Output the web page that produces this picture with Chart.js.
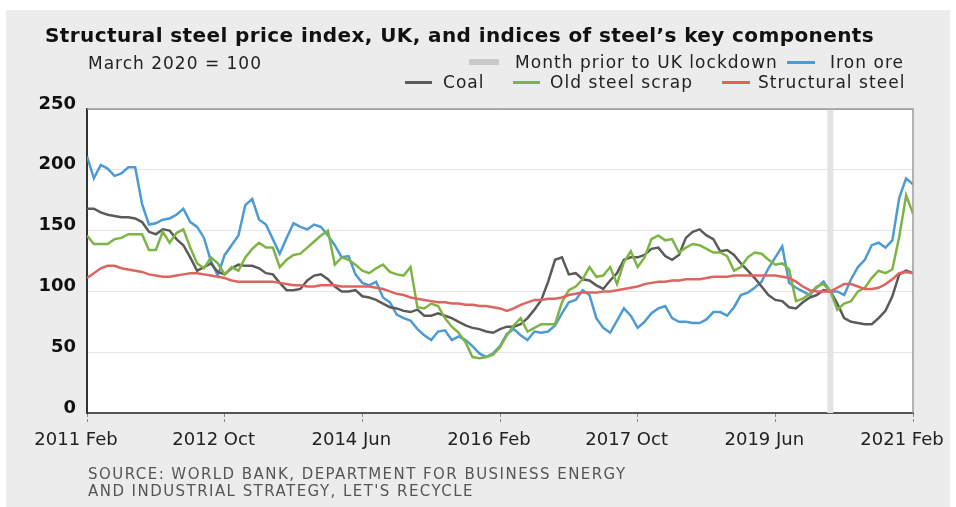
<!DOCTYPE html>
<html>
<head>
<meta charset="utf-8">
<script src="https://cdn.jsdelivr.net/npm/chart.js@4.4.1/dist/chart.umd.min.js"></script>
<style>
  html, body { margin: 0; padding: 0; background: #fff; }
  #wrap { position: relative; width: 956px; height: 507px; overflow: hidden; background: #fff; }
  #panel { position: absolute; left: 6px; top: 10px; width: 944px; height: 497px; background: #ececec; }
  #steelChart { position: absolute; left: 0; top: 0; }
  .t { position: absolute; white-space: nowrap; font-family: "DejaVu Sans", sans-serif; line-height: 1; color: #222; }
  .title { left: 45px; top: 25px; font-size: 20px; font-weight: bold; letter-spacing: 0.4px; color: #111; }
  .sub { left: 88px; top: 55px; font-size: 17px; letter-spacing: 1px; }
  .leg { font-size: 17px; letter-spacing: 1.05px; }
  .sw { position: absolute; height: 3px; }
  .src { left: 88px; font-size: 15px; letter-spacing: 1.45px; color: #555; }
</style>
</head>
<body>
<div id="wrap">
  <div id="panel"></div>
  <canvas id="steelChart" width="956" height="507"></canvas>

  <div class="t title">Structural steel price index, UK, and indices of steel’s key components</div>
  <div class="t sub">March 2020 = 100</div>

  <div class="sw" style="left:469px; top:59px; width:30px; height:6px; background:#c9c9c9;"></div>
  <div class="t leg" style="left:515px; top:54px;">Month prior to UK lockdown</div>
  <div class="sw" style="left:787px; top:61px; width:28px; background:#4d9bd4;"></div>
  <div class="t leg" style="left:830px; top:54px;">Iron ore</div>

  <div class="sw" style="left:405px; top:81px; width:27px; background:#5b5b5b;"></div>
  <div class="t leg" style="left:443px; top:74px;">Coal</div>
  <div class="sw" style="left:513px; top:81px; width:27px; background:#7db544;"></div>
  <div class="t leg" style="left:550px; top:74px;">Old steel scrap</div>
  <div class="sw" style="left:722px; top:81px; width:28px; background:#dc6560;"></div>
  <div class="t leg" style="left:758px; top:74px;">Structural steel</div>

  <div class="t src" style="top:467px;">SOURCE: WORLD BANK, DEPARTMENT FOR BUSINESS ENERGY</div>
  <div class="t src" style="top:484px;">AND INDUSTRIAL STRATEGY, LET'S RECYCLE</div>
</div>

<script>
// Steel price index vs its key components, monthly, 2011 Feb .. 2021 Feb (March 2020 = 100)

let tickMonths = [0, 20, 40, 60, 80, 100, 120];
let tickLabels = ['2011 Feb', '2012 Oct', '2014 Jun', '2016 Feb', '2017 Oct', '2019 Jun', '2021 Feb'];
let lockdownMonth = 108; // 2020 Feb, month prior to UK lockdown

let ironOre = [
	211, 193, 204, 201, 195, 197, 202, 202, 172, 155,
	156, 159, 160, 163, 168, 157, 153, 144, 125, 113,
	130, 138, 146, 171, 176, 159, 155, 143, 131, 144,
	156, 153, 151, 155, 153, 146, 138, 128, 129, 114,
	107, 105, 108, 95, 91, 81, 78, 76, 69, 64,
	60, 67, 68, 60, 63, 60, 55, 49, 46, 49,
	55, 65, 69, 64, 60, 67, 66, 67, 72, 82,
	91, 93, 101, 97, 78, 70, 66, 76, 86, 80,
	70, 75, 82, 86, 88, 78, 75, 75, 74, 74,
	77, 83, 83, 80, 87, 97, 99, 103, 108, 119,
	128, 137, 107, 103, 100, 97, 103, 108, 100, 100,
	97, 110, 120, 126, 138, 140, 136, 142, 177, 193,
	188
];

let coal = [
	168, 168, 165, 163, 162, 161, 161, 160, 157, 149,
	147, 151, 150, 143, 138, 128, 117, 120, 123, 116,
	114, 119, 122, 121, 121, 119, 115, 114, 107, 101,
	101, 102, 109, 113, 114, 110, 104, 100, 100, 101,
	96, 95, 93, 90, 87, 86, 84, 83, 85, 80,
	80, 82, 80, 78, 75, 72, 70, 69, 67, 66,
	69, 71, 71, 73, 78, 85, 93, 108, 126, 128,
	114, 115, 110, 109, 105, 102, 109, 115, 126, 128,
	128, 130, 135, 136, 129, 126, 130, 144, 149, 151,
	146, 143, 133, 134, 130, 123, 117, 111, 104, 97,
	93, 92, 87, 86, 91, 95, 97, 101, 100, 90,
	78, 75, 74, 73, 73, 78, 84, 96, 114, 117,
	115
];

let oldSteelScrap = [
	146, 139, 139, 139, 143, 144, 147, 147, 147, 134,
	134, 149, 140, 148, 151, 136, 123, 119, 128, 123,
	114, 120, 117, 128, 135, 140, 136, 136, 120, 126,
	130, 131, 136, 141, 146, 150, 122, 128, 126, 122,
	117, 115, 119, 122, 116, 114, 113, 120, 87, 86,
	90, 88, 78, 71, 66, 58, 46, 45, 46, 48,
	54, 64, 72, 78, 67, 70, 73, 73, 73, 91,
	101, 104, 110, 120, 112, 113, 120, 106, 124, 133,
	120, 128, 143, 146, 142, 143, 132, 136, 139, 138,
	135, 132, 132, 129, 117, 120, 128, 132, 131, 126,
	122, 123, 118, 92, 94, 98, 104, 106, 100, 85,
	90, 92, 100, 103, 111, 117, 115, 118, 145, 179,
	164
];

let structuralSteel = [
	111, 115, 119, 121, 121, 119, 118, 117, 116, 114,
	113, 112, 112, 113, 114, 115, 115, 114, 113, 112,
	111, 109, 108, 108, 108, 108, 108, 108, 107, 106,
	105, 105, 104, 104, 105, 105, 105, 104, 104, 104,
	104, 104, 103, 102, 100, 98, 97, 95, 94, 93,
	92, 91, 91, 90, 90, 89, 89, 88, 88, 87,
	86, 84, 86, 89, 91, 93, 93, 94, 94, 95,
	97, 98, 99, 99, 99, 100, 100, 101, 102, 103,
	104, 106, 107, 108, 108, 109, 109, 110, 110, 110,
	111, 112, 112, 112, 113, 113, 113, 113, 113, 113,
	113, 112, 111, 108, 104, 101, 100, 100, 100, 103,
	106, 106, 104, 102, 102, 103, 106, 110, 115, 116,
	115
];

let toPoints = function(values) {
	return values.map(function(v, i) {
		return { x: i, y: v };
	});
};

let lineSet = function(label, values, colour) {
	return {
		label: label,
		data: toPoints(values),
		borderColor: colour,
		borderWidth: 2.5,
		fill: false,
		tension: 0,
		radius: 0
	};
};

// white plot area, lockdown band, top/right frame
let plotFrame = {
	id: 'plotFrame',
	beforeDraw: function(chart) {
		let a = chart.chartArea;
		let ctx = chart.ctx;
		ctx.save();
		ctx.fillStyle = '#ffffff';
		ctx.fillRect(a.left, a.top, a.right - a.left, a.bottom - a.top);
		ctx.restore();
	},
	beforeDatasetsDraw: function(chart) {
		let a = chart.chartArea;
		let ctx = chart.ctx;
		let x = chart.scales.x.getPixelForValue(lockdownMonth);
		ctx.save();
		ctx.fillStyle = '#e3e3e3';
		ctx.fillRect(x - 3, a.top, 6, a.bottom - a.top);
		ctx.restore();
	},
	afterDraw: function(chart) {
		let a = chart.chartArea;
		let ctx = chart.ctx;
		ctx.save();
		ctx.strokeStyle = '#9c9c9c';
		ctx.lineWidth = 1.5;
		ctx.beginPath();
		ctx.moveTo(a.left, a.top);
		ctx.lineTo(a.right, a.top);
		ctx.lineTo(a.right, a.bottom);
		ctx.stroke();
		ctx.restore();
	}
};

let ctx_steel = document.getElementById('steelChart').getContext('2d');

let steelChart = new Chart(ctx_steel, {
	type: 'line',
	data: {
		datasets: [
			lineSet('Structural steel', structuralSteel, '#dc6560'),
			lineSet('Old steel scrap', oldSteelScrap, '#7db544'),
			lineSet('Coal', coal, '#5b5b5b'),
			lineSet('Iron ore', ironOre, '#4d9bd4')
		]
	},
	options: {
		responsive: false,
		animation: false,
		layout: { padding: { left: 37, top: 109, right: 43, bottom: 54 } },
		plugins: {
			legend: { display: false },
			tooltip: { enabled: false }
		},
		scales: {
			x: {
				type: 'linear',
				min: 0,
				max: 120,
				afterBuildTicks: function(scale) {
					scale.ticks = tickMonths.map(function(m) { return { value: m }; });
				},
				afterFit: function(scale) {
					scale.height = 40;
					scale.paddingLeft = 0;
					scale.paddingRight = 0;
				},
				grid: {
					drawOnChartArea: false,
					drawTicks: true,
					tickLength: 9,
					color: '#8a8a8a',
					tickBorderDash: [3, 2]
				},
				border: { display: true, color: '#555555', width: 2 },
				ticks: {
					autoSkip: false,
					maxRotation: 0,
					padding: 8,
					labelOffset: -11,
					color: '#222222',
					font: { family: 'DejaVu Sans', size: 18 },
					callback: function(value) {
						return tickLabels[tickMonths.indexOf(value)];
					}
				}
			},
			y: {
				min: 0,
				max: 250,
				afterFit: function(scale) {
					scale.width = 50;
				},
				grid: {
					drawTicks: false,
					color: function(c) {
						return c.tick && c.tick.value === 250 ? '#a8a8a8' : '#e6e6e6';
					}
				},
				border: { display: true, color: '#333333', width: 2 },
				ticks: {
					stepSize: 50,
					padding: 11,
					labelOffset: -5,
					color: '#111111',
					font: { family: 'DejaVu Sans', size: 18, weight: 'bold' }
				}
			}
		}
	},
	plugins: [plotFrame]
});
</script>
</body>
</html>
